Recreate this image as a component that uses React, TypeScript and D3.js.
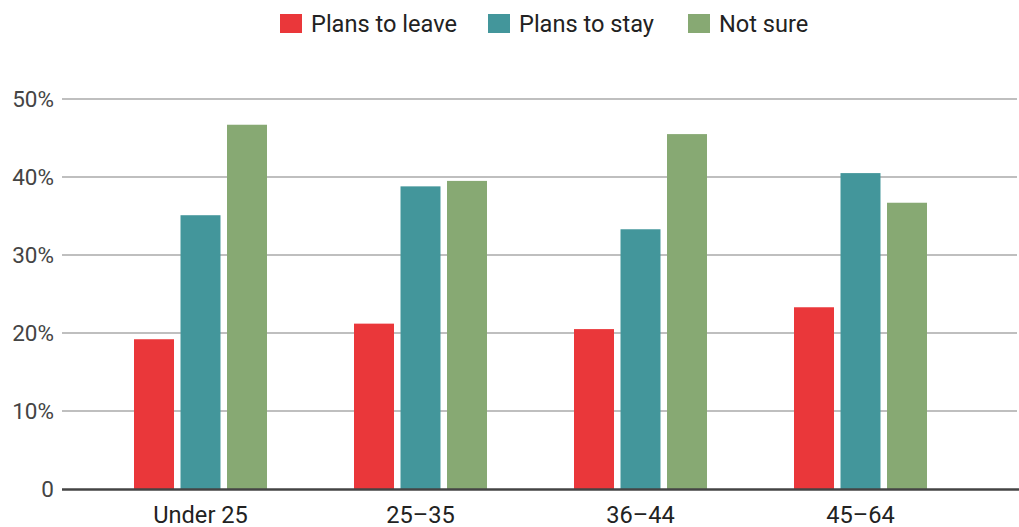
import React from "react";
import * as d3 from "d3";

const categories = ["Under 25", "25–35", "36–44", "45–64"];
const series = ["Plans to leave", "Plans to stay", "Not sure"];
const plansToLeave = [19.2, 21.2, 20.5, 23.3];
const plansToStay = [35.1, 38.8, 33.3, 40.5];
const notSure = [46.7, 39.5, 45.5, 36.7];
const yTicks = [0, 10, 20, 30, 40, 50];
const colors = ["#EA373A", "#43969B", "#87A973"];

const W = 1019;
const H = 527;
const FONT = "Roboto, 'Noto Sans', sans-serif";

export default function App() {
  const values = [plansToLeave, plansToStay, notSure];
  const y = d3.scaleLinear().domain([0, 50]).range([489, 99]);
  const x0 = d3.scaleBand<string>().domain(categories).range([90.5, 970.5]);
  const x1 = d3
    .scaleBand<string>()
    .domain(series)
    .range([-66.5, 66.5])
    .paddingInner(0.14);

  const legendX = [280, 488, 688];

  return (
    <svg
      width={W}
      height={H}
      style={{ position: "absolute", left: 0, top: 0, background: "#fff" }}
      fontFamily={FONT}
    >
      {/* legend */}
      {series.map((s, i) => (
        <g key={s}>
          <rect x={legendX[i]} y={14} width={22} height={19} fill={colors[i]} />
          <text x={legendX[i] + 31} y={32} fontSize={23.6} fill="#222">
            {s}
          </text>
        </g>
      ))}

      {/* gridlines */}
      {yTicks.slice(1).map((t) => (
        <line
          key={t}
          x1={62}
          x2={1017}
          y1={y(t)}
          y2={y(t)}
          stroke="#aaaaaa"
          strokeWidth={1.5}
        />
      ))}
      {/* y labels */}
      {yTicks.map((t) => (
        <text
          key={"l" + t}
          x={54}
          y={y(t) + 8}
          textAnchor="end"
          fontSize={22.5}
          fill="#444"
        >
          {t === 0 ? "0" : `${t}%`}
        </text>
      ))}

      {/* bars */}
      {categories.map((c, ci) => {
        const cx = (x0(c) as number) + x0.bandwidth() / 2;
        return (
          <g key={c}>
            {series.map((s, si) => (
              <rect
                key={s}
                x={cx + (x1(s) as number)}
                y={y(values[si][ci])}
                width={x1.bandwidth()}
                height={y(0) - y(values[si][ci])}
                fill={colors[si]}
              />
            ))}
            <text
              x={cx}
              y={523}
              textAnchor="middle"
              fontSize={23.6}
              fill="#222"
            >
              {c}
            </text>
          </g>
        );
      })}

      {/* axis baseline */}
      <line x1={62} x2={1019} y1={489.5} y2={489.5} stroke="#444" strokeWidth={2.5} />
    </svg>
  );
}
